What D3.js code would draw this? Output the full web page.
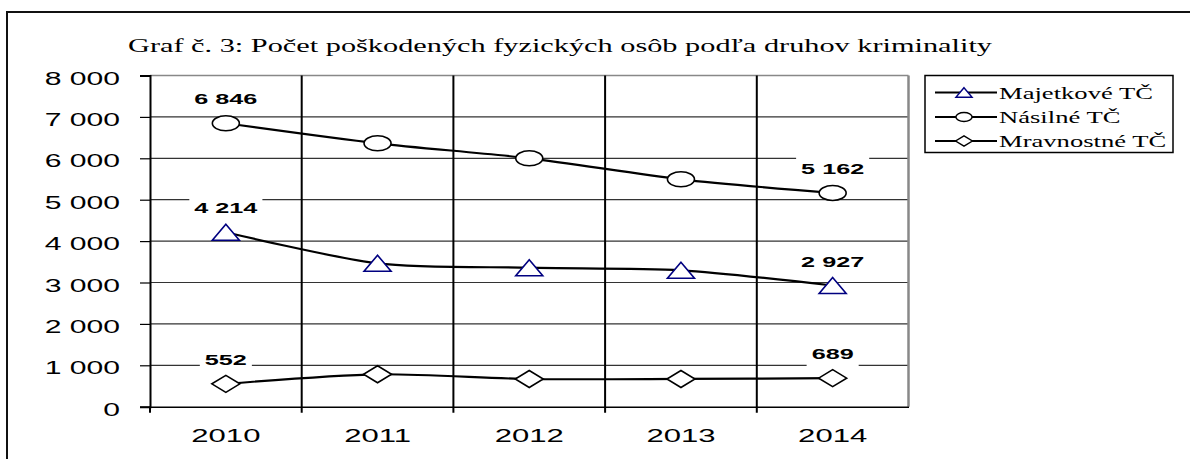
<!DOCTYPE html>
<html>
<head>
<meta charset="utf-8">
<script src="https://cdn.jsdelivr.net/npm/d3@7"></script>
<style>
  body { margin: 0; background: #fff; }
  svg { display: block; }
</style>
</head>
<body>
<div id="chart"></div>
<script>
// Chart data
const years = ["2010", "2011", "2012", "2013", "2014"];
const majetkove = [4214, 3464, 3357, 3295, 2927];
const nasilne = [6846, 6362, 6000, 5493, 5162];
const mravnostne = [552, 783, 669, 670, 689];
const seriesNames = ["Majetkové TČ", "Násilné TČ", "Mravnostné TČ"];
const yTicks = [0, 1000, 2000, 3000, 4000, 5000, 6000, 7000, 8000];
const title = "Graf č. 3: Počet poškodených fyzických osôb podľa druhov kriminality";

const width = 1190;
const height = 459;
const plot = { left: 150, right: 908.5, top: 75.5, bottom: 406.7 };

const fmt = d3.formatLocale({ decimal: ",", thousands: " ", grouping: [3], currency: ["", ""] }).format(",d");

// the source picture was stretched sideways, so text is stretched too
function stretch(sel, k) {
  sel.each(function () {
    const w = this.getComputedTextLength();
    d3.select(this).attr("textLength", w * k).attr("lengthAdjust", "spacingAndGlyphs");
  });
}

const svg = d3.select("#chart")
  .append("svg")
  .attr("width", width)
  .attr("height", height);

// Outer frame (top and left only)
svg.append("path")
  .attr("d", `M7,${height} V12 H${width}`)
  .attr("fill", "none")
  .attr("stroke", "#111")
  .attr("stroke-width", 2);

// Title
svg.append("text")
  .attr("x", 128)
  .attr("y", 52)
  .attr("font-family", "'Liberation Serif', 'Times New Roman', serif")
  .attr("font-size", 19)
  .attr("fill", "#000")
  .text(title)
  .attr("textLength", 864)
  .attr("lengthAdjust", "spacingAndGlyphs");

// Scales
const x = d3.scaleBand().domain(years).range([plot.left, plot.right]);
const y = d3.scaleLinear().domain([0, 8000]).range([plot.bottom, plot.top]);
const cx = d => x(d) + x.bandwidth() / 2;

// Horizontal gridlines
svg.append("g")
  .selectAll("line")
  .data(yTicks.slice(1))
  .enter()
  .append("line")
  .attr("x1", plot.left)
  .attr("x2", plot.right)
  .attr("y1", d => y(d))
  .attr("y2", d => y(d))
  .attr("stroke", d => d === 8000 ? "#888" : "#333")
  .attr("stroke-width", d => d === 8000 ? 1.5 : 1.2);

// Vertical gridlines at category boundaries
svg.append("g")
  .selectAll("line")
  .data(years.slice(1))
  .enter()
  .append("line")
  .attr("x1", d => x(d))
  .attr("x2", d => x(d))
  .attr("y1", plot.top)
  .attr("y2", plot.bottom + 6)
  .attr("stroke", "#000")
  .attr("stroke-width", 2);

// Right border of plot area
svg.append("line")
  .attr("x1", plot.right)
  .attr("x2", plot.right)
  .attr("y1", plot.top)
  .attr("y2", plot.bottom)
  .attr("stroke", "#888")
  .attr("stroke-width", 2.5);

// Y axis
const yAxis = svg.append("g")
  .attr("transform", `translate(${plot.left},0)`)
  .call(d3.axisLeft(y).tickValues(yTicks).tickSize(10).tickPadding(20).tickFormat(fmt));
yAxis.select(".domain").attr("stroke", "#000").attr("stroke-width", 2);
yAxis.selectAll(".tick line").attr("stroke", "#000").attr("stroke-width", 1.2);
yAxis.selectAll(".tick text")
  .attr("font-family", "'Liberation Sans', Arial, sans-serif")
  .attr("font-size", 17.5)
  .attr("fill", "#000")
  .attr("dy", null)
  .attr("y", 8.5)
  .call(stretch, 1.72);

// X axis
const xAxis = svg.append("g")
  .attr("transform", `translate(0,${plot.bottom})`)
  .call(d3.axisBottom(x).tickSize(0).tickPadding(22));
xAxis.select(".domain").attr("stroke", "#000").attr("stroke-width", 1.5);
xAxis.selectAll(".tick text")
  .attr("font-family", "'Liberation Sans', Arial, sans-serif")
  .attr("font-size", 18.5)
  .attr("fill", "#000")
  .call(stretch, 1.68);
svg.append("line")
  .attr("x1", plot.left).attr("x2", plot.left)
  .attr("y1", plot.bottom).attr("y2", plot.bottom + 6)
  .attr("stroke", "#000").attr("stroke-width", 2);

// Marker shapes (stretched sideways like the source)
const markers = {
  triangle: (w, h) => `M0,${-h / 2} L${w / 2},${h / 2} L${-w / 2},${h / 2} Z`,
  ellipse: (w, h) => `M${-w / 2},0 A${w / 2},${h / 2} 0 1,0 ${w / 2},0 A${w / 2},${h / 2} 0 1,0 ${-w / 2},0 Z`,
  diamond: (w, h) => `M0,${-h / 2} L${w / 2},0 L0,${h / 2} L${-w / 2},0 Z`
};

const series = [
  { name: seriesNames[0], values: majetkove, shape: "triangle", w: 27, h: 16, stroke: "#000080" },
  { name: seriesNames[1], values: nasilne, shape: "ellipse", w: 27, h: 15, stroke: "#000" },
  { name: seriesNames[2], values: mravnostne, shape: "diamond", w: 28, h: 17, stroke: "#000" }
];

const line = d3.line()
  .x((d, i) => cx(years[i]))
  .y(d => y(d))
  .curve(d3.curveCardinal.tension(0.2));

// Lines
svg.append("g")
  .selectAll("path")
  .data(series)
  .enter()
  .append("path")
  .attr("d", s => line(s.values))
  .attr("fill", "none")
  .attr("stroke", "#000")
  .attr("stroke-width", 2.2);

// Markers
series.forEach(s => {
  svg.append("g")
    .selectAll("path")
    .data(s.values)
    .enter()
    .append("path")
    .attr("transform", (d, i) => `translate(${cx(years[i])},${y(d)})`)
    .attr("d", markers[s.shape](s.w, s.h))
    .attr("fill", "#fff")
    .attr("stroke", s.stroke)
    .attr("stroke-width", 1.6);
});

// Data labels on first and last point
const labels = [];
series.forEach(s => {
  [0, s.values.length - 1].forEach(i => labels.push({ year: years[i], value: s.values[i] }));
});

const labelG = svg.append("g")
  .selectAll("g")
  .data(labels)
  .enter()
  .append("g")
  .attr("transform", d => `translate(${cx(d.year)},${y(d.value) - 19})`);

const labelRect = labelG.append("rect").attr("fill", "#fff");
const labelText = labelG.append("text")
  .attr("text-anchor", "middle")
  .attr("font-family", "'Liberation Sans', Arial, sans-serif")
  .attr("font-weight", "bold")
  .attr("font-size", 15)
  .attr("fill", "#000")
  .text(d => fmt(d.value))
  .call(stretch, 1.68);
labelRect.each(function () {
  const t = this.parentNode.querySelector("text");
  const w = +t.getAttribute("textLength");
  d3.select(this)
    .attr("x", -w / 2 - 5)
    .attr("width", w + 10)
    .attr("y", -17)
    .attr("height", 24);
});

// Legend
const legend = svg.append("g");
legend.append("rect")
  .attr("x", 925)
  .attr("y", 75.5)
  .attr("width", 248)
  .attr("height", 77)
  .attr("fill", "#fff")
  .attr("stroke", "#000")
  .attr("stroke-width", 1.5);

const legendRows = [92.5, 117, 141];
const legendItem = legend.selectAll("g.item")
  .data(series)
  .enter()
  .append("g")
  .attr("class", "item")
  .attr("transform", (s, i) => `translate(0,${legendRows[i]})`);

legendItem.append("line")
  .attr("x1", 935)
  .attr("x2", 997)
  .attr("stroke", "#000")
  .attr("stroke-width", 2.2);

legendItem.append("path")
  .attr("transform", "translate(964,0)")
  .attr("d", s => markers[s.shape](s.w * 0.6, s.h * 0.6))
  .attr("fill", "#fff")
  .attr("stroke", s => s.stroke)
  .attr("stroke-width", 1.4);

legendItem.append("text")
  .attr("x", 999)
  .attr("y", 6)
  .attr("font-family", "'Liberation Serif', 'Times New Roman', serif")
  .attr("font-size", 17.5)
  .attr("fill", "#000")
  .text(s => s.name)
  .call(stretch, 1.52);
</script>
</body>
</html>
